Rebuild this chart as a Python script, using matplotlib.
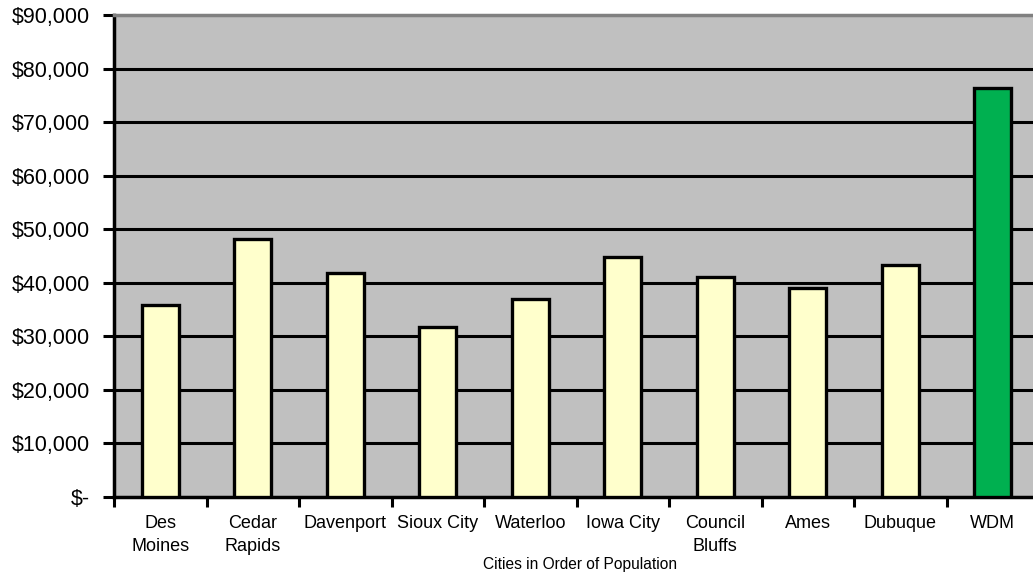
import matplotlib
matplotlib.use("Agg")
import matplotlib.pyplot as plt
from matplotlib.ticker import FuncFormatter, FixedLocator
import numpy as np

categories = ["Des\nMoines", "Cedar\nRapids", "Davenport", "Sioux City", "Waterloo",
              "Iowa City", "Council\nBluffs", "Ames", "Dubuque", "WDM"]
values = [35800, 48200, 41800, 31700, 37000, 44900, 41000, 39100, 43300, 76300]
bar_colors = ["#FFFFCC"] * 9 + ["#00B050"]
y_ticks = [0, 10000, 20000, 30000, 40000, 50000, 60000, 70000, 80000, 90000]
x_title = "Cities in Order of Population"

plt.rcParams['font.family'] = ['Liberation Sans', 'DejaVu Sans']

W, H = 1033, 575
fig = plt.figure(figsize=(W / 100, H / 100), dpi=100)
left, right, top, bottom = 114, 114 + 925, 15, 497
ax = fig.add_axes([left / W, 1 - bottom / H, (right - left) / W, (bottom - top) / H])
ax.set_facecolor("#C0C0C0")

x = np.arange(len(categories))
ax.bar(x, values, width=0.4, color=bar_colors, edgecolor="black", linewidth=2.4, zorder=3)

ax.set_xlim(-0.5, len(categories) - 0.5)
ax.set_ylim(0, 90000)

ax.set_yticks(y_ticks)
ax.yaxis.set_major_formatter(FuncFormatter(lambda v, p: "$-" if v == 0 else f"${v:,.0f}"))
ax.tick_params(axis="y", labelsize=15.5, length=8, width=2.2, color="black", pad=9.5)
for yv in y_ticks[1:-1]:
    ax.axhline(yv, color="black", linewidth=2.2, zorder=1)

ax.set_xticks(x)
ax.set_xticklabels(categories, fontsize=13, linespacing=1.45)
ax.tick_params(axis="x", which="major", length=0, pad=13)
ax.xaxis.set_minor_locator(FixedLocator(np.arange(-0.5, len(categories), 1.0)))
ax.tick_params(axis="x", which="minor", length=7, width=2.2, color="black")

fig.text(580 / W, 1 - 564 / H, x_title, fontsize=11.2, ha="center", va="center")

for s in ["left", "bottom"]:
    ax.spines[s].set_color("black")
    ax.spines[s].set_linewidth(2.5)
ax.spines["top"].set_color("#808080")
ax.spines["top"].set_linewidth(2.5)
ax.spines["right"].set_visible(False)

fig.savefig("out.png", dpi=100)
